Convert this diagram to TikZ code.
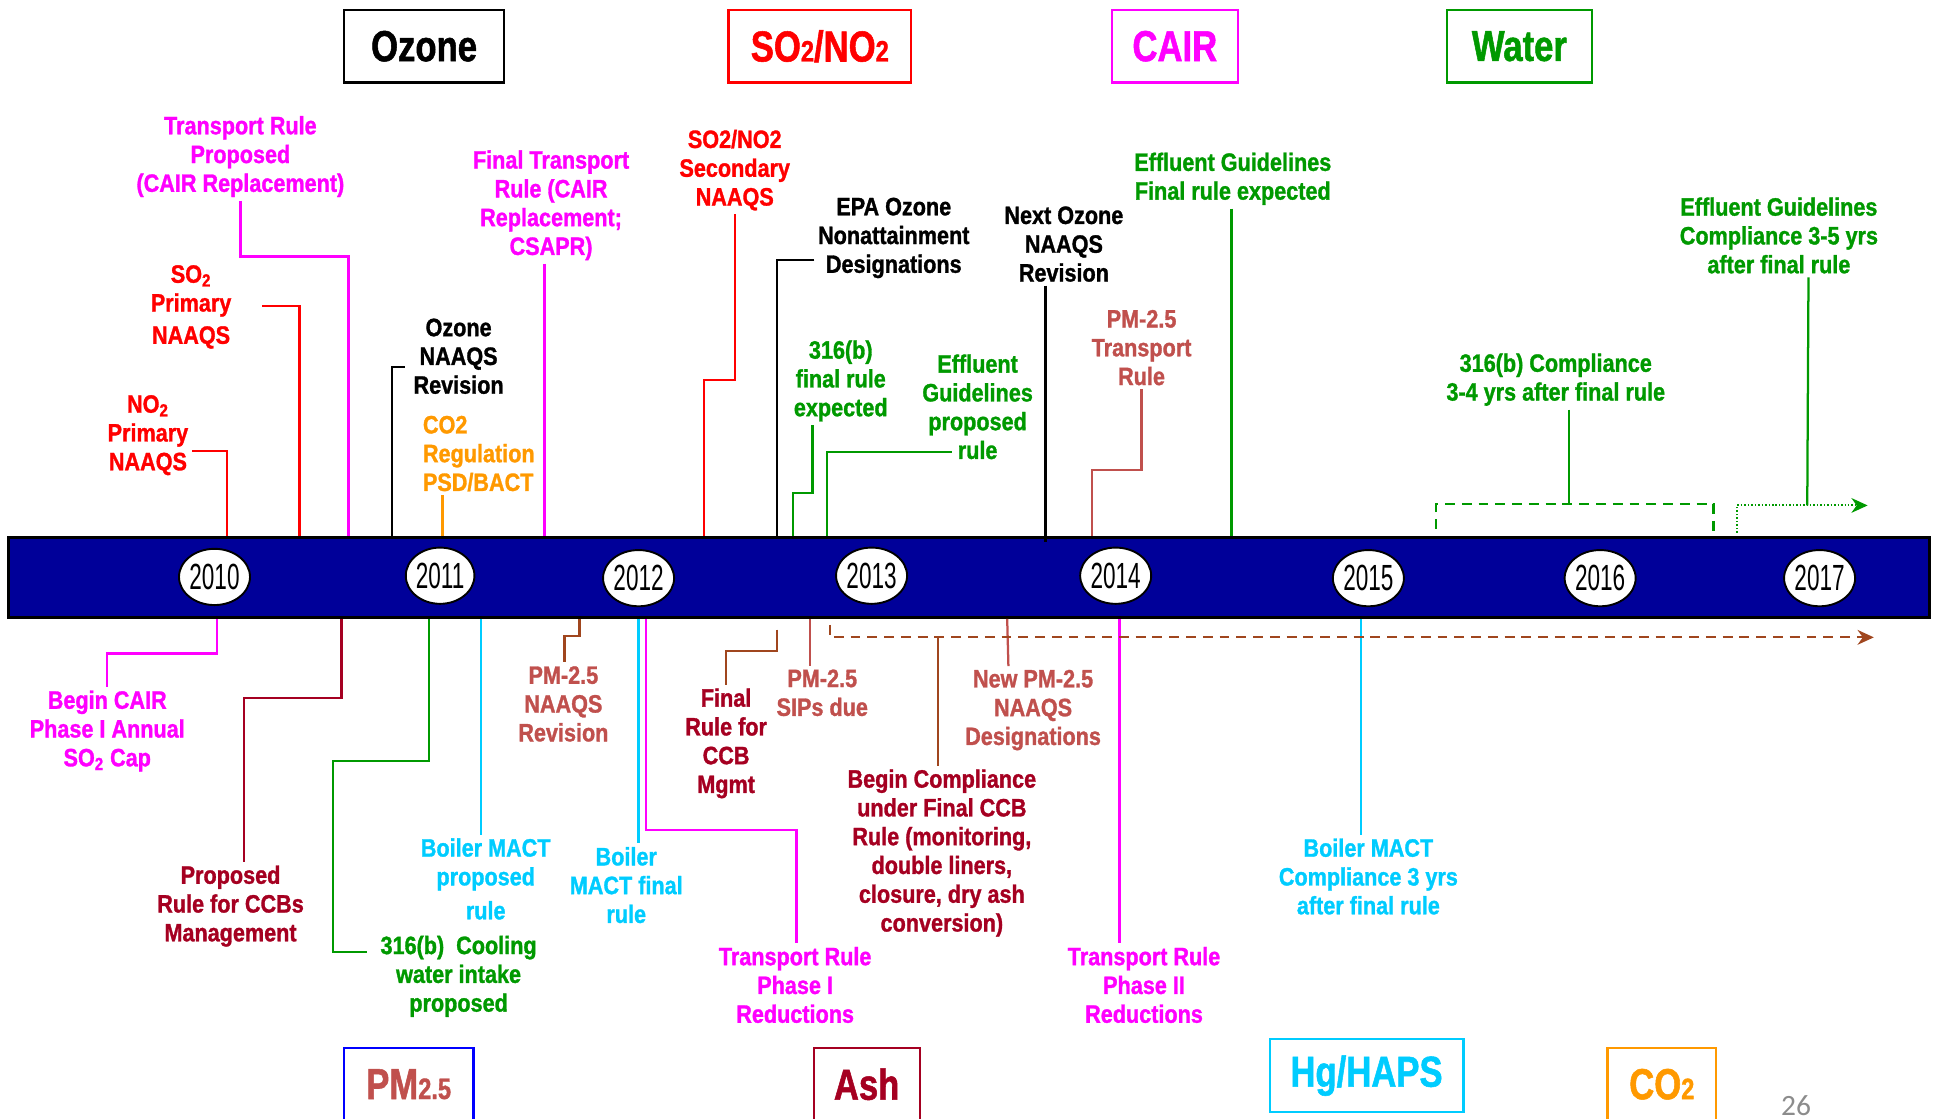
\documentclass[tikz,border=0pt]{standalone}
\usepackage{fontspec}
\setmainfont{Liberation Sans}[FakeStretch=0.86, BoldFeatures={FakeBold=1.2}]
\newfontfamily\yearfont{Liberation Sans}[FakeStretch=0.62]
\newfontfamily\titlefont{Liberation Sans}[FakeStretch=0.8, BoldFeatures={FakeBold=1.2}]
\newfontfamily\pagefont{Carlito}
\usetikzlibrary{arrows.meta, positioning, shapes.geometric, fit, calc}

\definecolor{barblue}{HTML}{000099}
\definecolor{cmag}{HTML}{FF00FF}
\definecolor{cred}{HTML}{FF0000}
\definecolor{cgreen}{HTML}{009900}
\definecolor{cired}{HTML}{C0504D}
\definecolor{cdred}{HTML}{A50021}
\definecolor{ccyan}{HTML}{00CCFF}
\definecolor{corange}{HTML}{FF9900}
\definecolor{csienna}{HTML}{A0461E}
\definecolor{cblue}{HTML}{0000FF}
\definecolor{pagegray}{HTML}{8C8C8C}

\newcommand\subfig[1]{{\fontsize{17}{17}\selectfont #1}}

\begin{document}
\begin{tikzpicture}[x=0.025cm, y=-0.025cm,
            lbl/.style={align=center, inner sep=2pt, font=\bfseries\fontsize{14.5}{16.6}\selectfont},
            yearnode/.style={ellipse, draw=black, line width=1.1pt, fill=white, minimum width=1.08cm, minimum height=1.14cm, inner sep=0pt, font=\yearfont\fontsize{21}{21}\selectfont},
            topic/.style={draw, line width=1.3pt, minimum height=1.475cm, inner sep=0pt, font=\titlefont\bfseries\fontsize{25}{25}\selectfont},
            link/.style={line width=1.3pt},
            boldlink/.style={line width=1.7pt},
            arr/.style={-{Stealth[length=0.33cm, width=0.3cm]}},
            dashlink/.style={link, dash pattern=on 0.2cm off 0.14cm},
            dotlink/.style={line width=1.1pt, dash pattern=on 0.03cm off 0.04cm}
        ]
            \useasboundingbox (0,0) rectangle (1568,907);

            % Timeline bar
            \node[fit={(7,436) (1565,501)}, inner sep=0pt, draw=black, line width=1.4pt, fill=barblue] (bar) {};

            \node[yearnode] (y2010) at (174,468) {2010};
            \node[yearnode] (y2011) at (357,467) {2011};
            \node[yearnode] (y2012) at (518,469) {2012};
            \node[yearnode] (y2013) at (707,467) {2013};
            \node[yearnode] (y2014) at (905,467) {2014};
            \node[yearnode] (y2015) at (1110,469) {2015};
            \node[yearnode] (y2016) at (1298,469) {2016};
            \node[yearnode] (y2017) at (1476,469) {2017};

            % Topic boxes
            \node[topic, draw=black, text=black, minimum width=3.25cm] (ozbox) at (344,37.5) {Ozone};
            \node[topic, draw=cred, text=cred, minimum width=3.7cm] (sobox) at (665,37.5) {SO\subfig{2}/NO\subfig{2}};
            \node[topic, draw=cmag, text=cmag, minimum width=2.55cm] (cairbox) at (953,37.5) {CAIR};
            \node[topic, draw=cgreen, text=cgreen, minimum width=2.93cm] (waterbox) at (1232.5,37.5) {Water};

            \node[topic, draw=cblue, text=cired, minimum width=2.63cm] (pmbox) at (331.5,879.5) {PM\subfig{2.5}};
            \node[topic, draw=cdred, text=cdred, minimum width=2.15cm] (ashbox) at (703,879.5) {Ash};
            \node[topic, draw=ccyan, text=ccyan, minimum width=3.93cm] (hgbox) at (1108.5,872.5) {Hg/HAPS};
            \node[topic, draw=corange, text=corange, minimum width=2.2cm] (cobox) at (1348,879.5) {CO\subfig{2}};

            \node[font=\pagefont\fontsize{17}{17}\selectfont, text=pagegray, inner sep=0pt] (pgnum) at (1457,897) {26};

            % Events above the bar
            \node[lbl, text=cmag] (trprop) at (195,127) {Transport Rule\\Proposed\\(CAIR Replacement)};
            \node[lbl, text=cred] (so2prim) at (155,249) {SO\textsubscript{2}\\Primary\\[2pt]NAAQS};
            \node[lbl, text=cred] (no2prim) at (120,353) {NO\textsubscript{2}\\Primary\\NAAQS};
            \node[lbl, text=black] (ozrev) at (372,289) {Ozone\\NAAQS\\Revision};
            \node[lbl, text=corange, align=left, anchor=west] (co2reg) at (340,368) {CO2\\Regulation\\PSD/BACT};
            \node[lbl, text=cmag] (trfinal) at (447,166.5) {Final Transport\\Rule (CAIR\\Replacement;\\CSAPR)};
            \node[lbl, text=cred] (so2sec) at (596,138) {SO2/NO2\\Secondary\\NAAQS};
            \node[lbl, text=black] (epaoz) at (725,193) {EPA Ozone\\Nonattainment\\Designations};
            \node[lbl, text=black] (nextoz) at (863,198) {Next Ozone\\NAAQS\\Revision};
            \node[lbl, text=cgreen] (effinal) at (1000,145) {Effluent Guidelines\\Final rule expected};
            \node[lbl, text=cgreen] (b316fin) at (682,309) {316(b)\\final rule\\expected};
            \node[lbl, text=cgreen] (effprop) at (793,330) {Effluent\\Guidelines\\proposed\\rule};
            \node[lbl, text=cired] (pmtrans) at (926,282) {PM-2.5\\Transport\\Rule};
            \node[lbl, text=cgreen] (b316comp) at (1262,308) {316(b) Compliance\\3-4 yrs after final rule};
            \node[lbl, text=cgreen] (effcomp) at (1443,191) {Effluent Guidelines\\Compliance 3-5 yrs\\after final rule};

            \draw[boldlink, cmag] (trprop.south) |- (283,208) -- (283,0 |- bar.north);
            \draw[link, cred] ($(so2prim.east)+(22,-1)$) -| (243,0 |- bar.north);
            \draw[link, cred] ($(no2prim.east)+(0,13)$) -| (184,0 |- bar.north);
            \draw[link, black] ($(ozrev.west)+(-4,9)$) -| (318,0 |- bar.north);
            \draw[link, corange] (359,0 |- co2reg.south) -- (359,0 |- bar.north);
            \draw[boldlink, cmag] (442,0 |- trfinal.south) -- (442,0 |- bar.north);
            \draw[link, cred] (so2sec.south) |- (571,308) -- (571,0 |- bar.north);
            \draw[link, black] ($(epaoz.west)+(0,18)$) -| (630,0 |- bar.north);
            \draw[link, black] (848,0 |- nextoz.south) -- ([yshift=-0.12cm]848,0 |- bar.north);
            \draw[link, cgreen] (999,0 |- effinal.south) -- (999,0 |- bar.north);
            \draw[link, cgreen] (659,0 |- b316fin.south) |- (643,400) -- (643,0 |- bar.north);
            \draw[link, cgreen] ($(effprop.south)+(-21,-9)$) -| (671,0 |- bar.north);
            \draw[link, cired] (pmtrans.south) |- (886,381) -- (886,0 |- bar.north);

            % Compliance windows after 2015
            \coordinate (b316top) at (1273,409);
            \coordinate (b316l) at (1165,429);
            \coordinate (b316r) at (1390,432);
            \draw[link, cgreen] (1273,0 |- b316comp.south) -- (b316top);
            \draw[dashlink, cgreen] (b316l) |- (b316top) -| (b316r);

            \coordinate (efftop) at (1466,410);
            \coordinate (effl) at (1409,432);
            \coordinate (effend) at (1515,410);
            \draw[link, cgreen] (1467,0 |- effcomp.south) -- (efftop);
            \draw[dotlink, cgreen, arr] (effl) |- (effend);

            % Events below the bar
            \node[lbl, text=cmag] (cairph1) at (87,593) {Begin CAIR\\Phase I Annual\\SO\textsubscript{2} Cap};
            \node[lbl, text=cdred] (ccbprop) at (187,735) {Proposed\\Rule for CCBs\\Management};
            \node[lbl, text=cgreen] (b316cool) at (372,792) {316(b)~~Cooling\\water intake\\proposed};
            \node[lbl, text=ccyan] (bmactprop) at (394,713) {Boiler MACT\\proposed\\[3pt]rule};
            \node[lbl, text=cired] (pmrev) at (457,571) {PM-2.5\\NAAQS\\Revision};
            \node[lbl, text=ccyan] (bmactfin) at (508,718) {Boiler\\MACT final\\rule};
            \node[lbl, text=cmag] (trph1) at (645,799) {Transport Rule\\Phase I\\Reductions};
            \node[lbl, text=cdred] (ccbfinal) at (589,603) {Final\\Rule for\\CCB\\Mgmt};
            \node[lbl, text=cired] (pmsips) at (667,562) {PM-2.5\\SIPs due};
            \node[lbl, text=cdred] (ccbcomp) at (764,692) {Begin Compliance\\under Final CCB\\Rule (monitoring,\\double liners,\\closure, dry ash\\conversion)};
            \node[lbl, text=cired] (pmdesig) at (838,576) {New PM-2.5\\NAAQS\\Designations};
            \node[lbl, text=cmag] (trph2) at (928,799) {Transport Rule\\Phase II\\Reductions};
            \node[lbl, text=ccyan] (bmactcomp) at (1110,711) {Boiler MACT\\Compliance 3 yrs\\after final rule};

            \draw[link, cmag] (176,0 |- bar.south) |- (87,530) -- (cairph1.north);
            \draw[link, cdred] (277,0 |- bar.south) |- (198,566) -- (198,0 |- ccbprop.north);
            \draw[link, cgreen] (348,0 |- bar.south) |- (270,617) |- ($(b316cool.west)+(-8,-20)$);
            \draw[link, ccyan] (390,0 |- bar.south) -- (390,0 |- bmactprop.north);
            \draw[link, csienna] (470,0 |- bar.south) |- (458,516) -- (458,0 |- pmrev.north);
            \draw[link, ccyan] (518,0 |- bar.south) -- (518,0 |- bmactfin.north);
            \draw[link, cmag] (524,0 |- bar.south) |- (646,673) -- (646,0 |- trph1.north);
            \draw[link, csienna] ([yshift=-0.22cm]630,0 |- bar.south) |- (589,528) -- (589,0 |- ccbfinal.north);
            \draw[link, cired] (657,0 |- bar.south) -- (657,0 |- pmsips.north);
            \draw[link, cired] (817,0 |- bar.south) -- (818,0 |- pmdesig.north);
            \draw[boldlink, cmag] (908,0 |- bar.south) -- (908,0 |- trph2.north);
            \draw[link, ccyan] (1104,0 |- bar.south) -- (1104,0 |- bmactcomp.north);

            % CCB compliance period
            \coordinate (ccbjoin) at (761,517);
            \coordinate (ccbend) at (1520,517);
            \draw[dashlink, csienna, arr] ([yshift=-0.12cm]673,0 |- bar.south) |- (ccbend);
            \draw[link, csienna] (ccbjoin) -- (761,0 |- ccbcomp.north);

        \end{tikzpicture}
\end{document}
